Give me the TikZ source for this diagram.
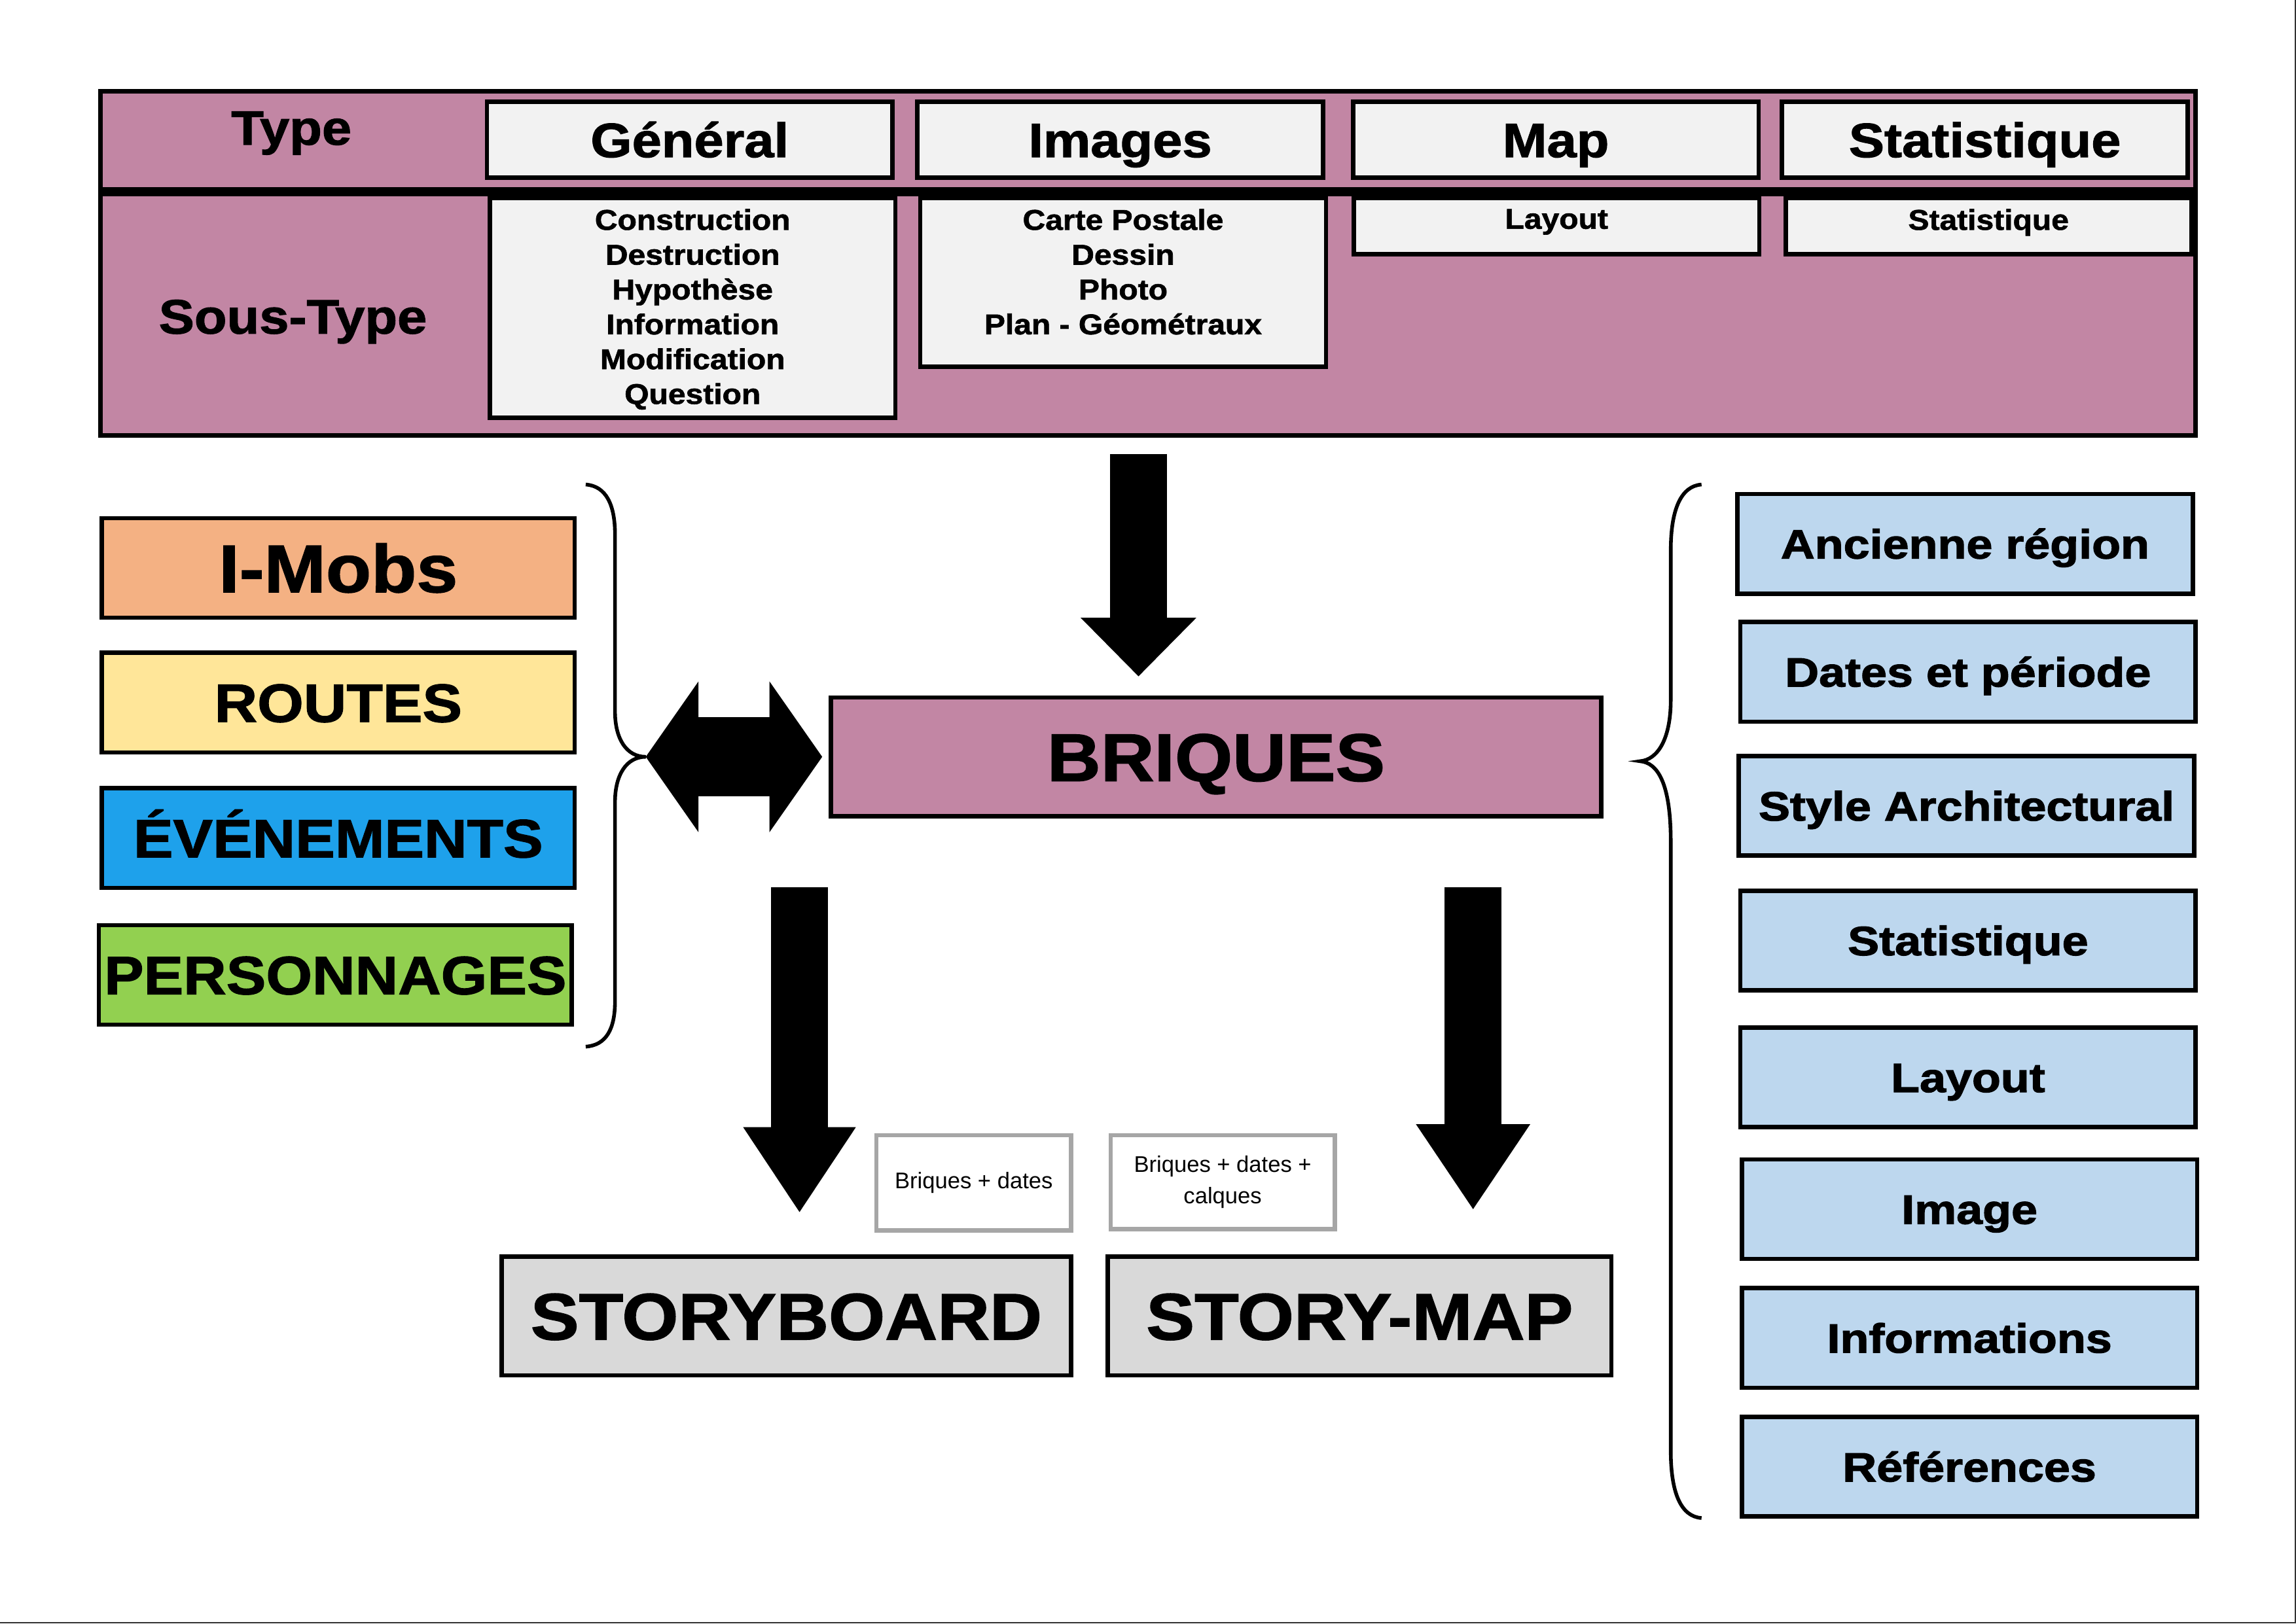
\documentclass[tikz,border=0pt]{standalone}
\usepackage{fontspec}
\setmainfont{Liberation Sans}
\newfontfamily\heavyfont[FakeStretch=1.1,FakeBold=1.5]{Liberation Sans Bold}
\newfontfamily\widefont[FakeStretch=1.15,FakeBold=2]{Liberation Sans Bold}
\usepackage{tikz}
\usetikzlibrary{arrows.meta}
\definecolor{mauve}{RGB}{194,134,164}
\definecolor{headgrey}{RGB}{242,242,242}
\definecolor{salmon}{RGB}{244,177,131}
\definecolor{paleyellow}{RGB}{255,230,153}
\definecolor{skyblue}{RGB}{30,161,235}
\definecolor{leafgreen}{RGB}{146,208,80}
\definecolor{paleblue}{RGB}{189,215,238}
\definecolor{storygrey}{RGB}{217,217,217}
\definecolor{notegrey}{RGB}{166,166,166}

\begin{document}
\begin{tikzpicture}
  [x=0.2mm, y=-0.2mm,
   frame/.style={draw, line width=0.6mm, inner sep=0},
   rowbox/.style={frame, fill=mauve, minimum width=286.2mm},
   rowlabel/.style={inner sep=0, text height=13.5pt, text depth=0pt, font=\heavyfont\fontsize{18.8}{20}\selectfont},
   headbox/.style={frame, fill=headgrey, minimum width=55.4mm, minimum height=10.4mm, text height=13.5pt, text depth=0pt, font=\heavyfont\fontsize{18.8}{20}\selectfont},
   subbox/.style={frame, fill=headgrey, minimum width=55.4mm},
   subtext/.style={anchor=north, inner sep=1.7mm, align=center, font=\heavyfont\fontsize{11.1}{13.54}\selectfont},
   leftbox/.style={frame, minimum width=64.6mm, minimum height=13.6mm, text height=15pt, text depth=0pt, font=\heavyfont\fontsize{21}{24}\selectfont},
   rightbox/.style={frame, fill=paleblue, minimum width=62.2mm, minimum height=13.6mm, text height=11.4pt, text depth=0pt, font=\widefont\fontsize{15.9}{18}\selectfont},
   bigbox/.style={frame, minimum height=16.2mm, text height=18.3pt, text depth=0pt, font=\heavyfont\fontsize{25.6}{28}\selectfont},
   notebox/.style={draw=notegrey, line width=0.6mm, fill=white, inner sep=0, align=center, font=\fontsize{8.8}{12}\selectfont},
   blockarrow/.style={line width=7.8mm},
   bracket/.style={line width=0.5mm}]
  \useasboundingbox (0,0) rectangle (1568,1109);

  \node[rowbox, minimum height=13.4mm] (typerow) at (784,96) {};
  \node[rowbox, minimum height=33mm] (subrow) at (784,215) {};
  \node[rowlabel] (typelbl) at (199,87) {Type};
  \node[rowlabel] (sublbl) at (200,216) {Sous-Type};

  \node[headbox] (hgen) at (471,95.5) {Général};
  \node[headbox] (himg) at (765,95.5) {Images};
  \node[headbox] (hmap) at (1062.5,95.5) {Map};
  \node[headbox] (hstat) at (1355.5,95.5) {Statistique};

  \node[subbox, minimum height=30mm] (sgen) at (473,210.5) {};
  \node[subtext] (tgen) at (sgen.north) {Construction\\Destruction\\Hypothèse\\Information\\Modification\\Question};
  \node[subbox, minimum height=23mm] (simg) at (767,193) {};
  \node[subtext] (timg) at (simg.north) {Carte Postale\\Dessin\\Photo\\Plan - Géométraux};
  \node[subbox, minimum height=7.6mm] (smap) at (1063,154.5) {};
  \node[subtext] (tmap) at (smap.north) {Layout};
  \node[subbox, minimum height=7.6mm] (sstat) at (1358,154.5) {};
  \node[subtext] (tstat) at (sstat.north) {Statistique};

  \node[leftbox, fill=salmon, text height=18.8pt, font=\heavyfont\fontsize{26.2}{28}\selectfont] (imobs) at (231,388) {I-Mobs};
  \node[leftbox, fill=paleyellow] (routes) at (231,480) {ROUTES};
  \node[leftbox, fill=skyblue] (events) at (231,572.5) {ÉVÉNEMENTS};
  \node[leftbox, fill=leafgreen] (persons) at (229,666) {PERSONNAGES};

  \node[bigbox, fill=mauve, minimum width=105.2mm, text height=18.8pt, font=\heavyfont\fontsize{26.2}{28}\selectfont] (brq) at (830.5,517) {BRIQUES};
  \node[bigbox, fill=storygrey, minimum width=77.8mm] (board) at (537,899) {STORYBOARD};
  \node[bigbox, fill=storygrey, minimum width=68.8mm] (smap2) at (928.5,899) {STORY-MAP};

  \node[notebox, minimum width=26.6mm, minimum height=13mm] (note1) at (665,808) {Briques + dates};
  \node[notebox, minimum width=30.6mm, minimum height=12.8mm] (note2) at (835,807.5) {Briques + dates +\\calques};

  \node[rightbox] (r1) at (1342,371.5) {Ancienne région};
  \node[rightbox] (r2) at (1344,459) {Dates et période};
  \node[rightbox] (r3) at (1343,550.5) {Style Architectural};
  \node[rightbox] (r4) at (1344,642.5) {Statistique};
  \node[rightbox] (r5) at (1344,736) {Layout};
  \node[rightbox] (r6) at (1345,826) {Image};
  \node[rightbox] (r7) at (1345,914) {Informations};
  \node[rightbox] (r8) at (1345,1002) {Références};

  \coordinate (ltip) at (441,517);
  \coordinate (rtip) at (1120,520);
  \draw[bracket] (400,331) .. controls (414,332) and (420,345) .. (420,365) -- (420,486)
    .. controls (420,505) and (428,517) .. (ltip) .. controls (428,517) and (420,529) .. (420,548)
    -- (420,684) .. controls (420,703) and (414,714) .. (400,715);
  \draw[bracket] (1162,331) .. controls (1148,332) and (1141,348) .. (1141,376) -- (1141,478)
    .. controls (1141,505) and (1132,519) .. (rtip) .. controls (1132,521) and (1141,535) .. (1141,575)
    -- (1141,991) .. controls (1141,1020) and (1148,1036) .. (1162,1037);

  \coordinate (topA) at (777.5,310);
  \coordinate (topB) at (777.5,462);
  \coordinate (boardA) at (546,606);
  \coordinate (boardB) at (546,828);
  \coordinate (mapA) at (1006,606);
  \coordinate (mapB) at (1006,826);
  \draw[blockarrow, -{Triangle[length=8mm, width=15.8mm, line width=0pt]}] (topA) -- (topB);
  \draw[blockarrow, -{Triangle[length=11.6mm, width=15.4mm, line width=0pt]}] (boardA) -- (boardB);
  \draw[blockarrow, -{Triangle[length=11.6mm, width=15.6mm, line width=0pt]}] (mapA) -- (mapB);
  \draw[line width=10.8mm, shorten >=0.9mm,
        {Triangle[length=7.2mm, width=20.6mm, line width=0pt]}-{Triangle[length=7.2mm, width=20.6mm, line width=0pt]}]
        (ltip) -- (brq.west);

  \draw[line width=0.15mm, black!80] (1567.4,0) -- (1567.4,1108.4) -- (0,1108.4);
\end{tikzpicture}
\end{document}
